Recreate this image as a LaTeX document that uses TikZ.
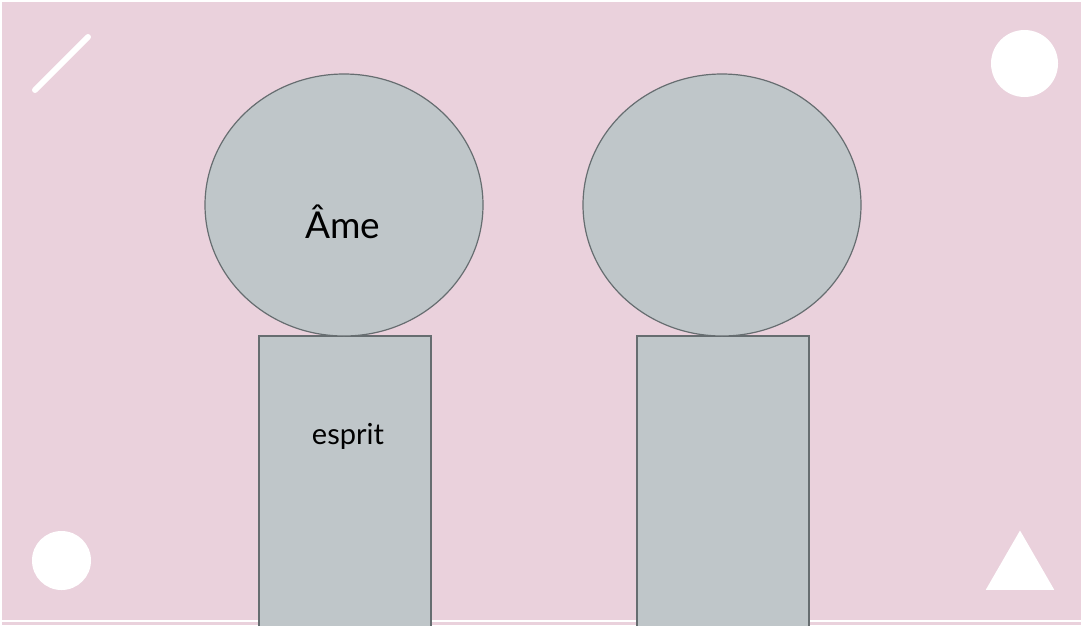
\documentclass[tikz,border=0pt]{standalone}
\usepackage{fontspec}
\setmainfont{Lato}
\usepackage{xcolor}
\usetikzlibrary{shapes.geometric}
\definecolor{fond}{HTML}{EAD1DC}
\definecolor{gris}{HTML}{BFC6C9}
\definecolor{trait}{HTML}{666D70}
\tikzset{
  tete/.style={ellipse,draw=trait,fill=gris,line width=1.2pt,minimum width=278pt,minimum height=262pt,inner sep=0pt},
  corps/.style={rectangle,draw=trait,fill=gris,line width=1.2pt,minimum width=172pt,inner sep=0pt},
  deco/.style={fill=white,draw=none}
}
\begin{document}
\begin{tikzpicture}[x=1pt,y=-1pt]
            \useasboundingbox (0,0) rectangle (1083,625);
            \fill[fond] (2,2) rectangle (1081,625);
            \draw[white,line width=2pt] (2,621) -- (1081,621);

            % decorations
            \draw[white,line width=6pt,line cap=round] (35,90) -- (88,37);
            \node[circle,deco,minimum size=67pt,inner sep=0pt] (rondhaut) at (1024.5,63.5) {};
            \node[circle,deco,minimum size=59pt,inner sep=0pt] (rondbas) at (61.5,560.5) {};
            \node[regular polygon,regular polygon sides=3,deco,minimum size=79pt,inner sep=0pt] (triangle) at (1020,570) {};

            % gauche
            \node[corps,minimum height=294pt] (corpsA) at (345,483) {};
            \node[tete] (teteA) at (344,205) {};
            \node[anchor=base,font=\fontsize{37}{44}\selectfont] (ame) at (343,238) {Âme};
            \node[anchor=base,font=\fontsize{29}{35}\selectfont] (esprit) at (348,444) {esprit};

            % droite
            \node[corps,minimum height=294pt] (corpsB) at (723,483) {};
            \node[tete] (teteB) at (722,205) {};
          \end{tikzpicture}
\end{document}
